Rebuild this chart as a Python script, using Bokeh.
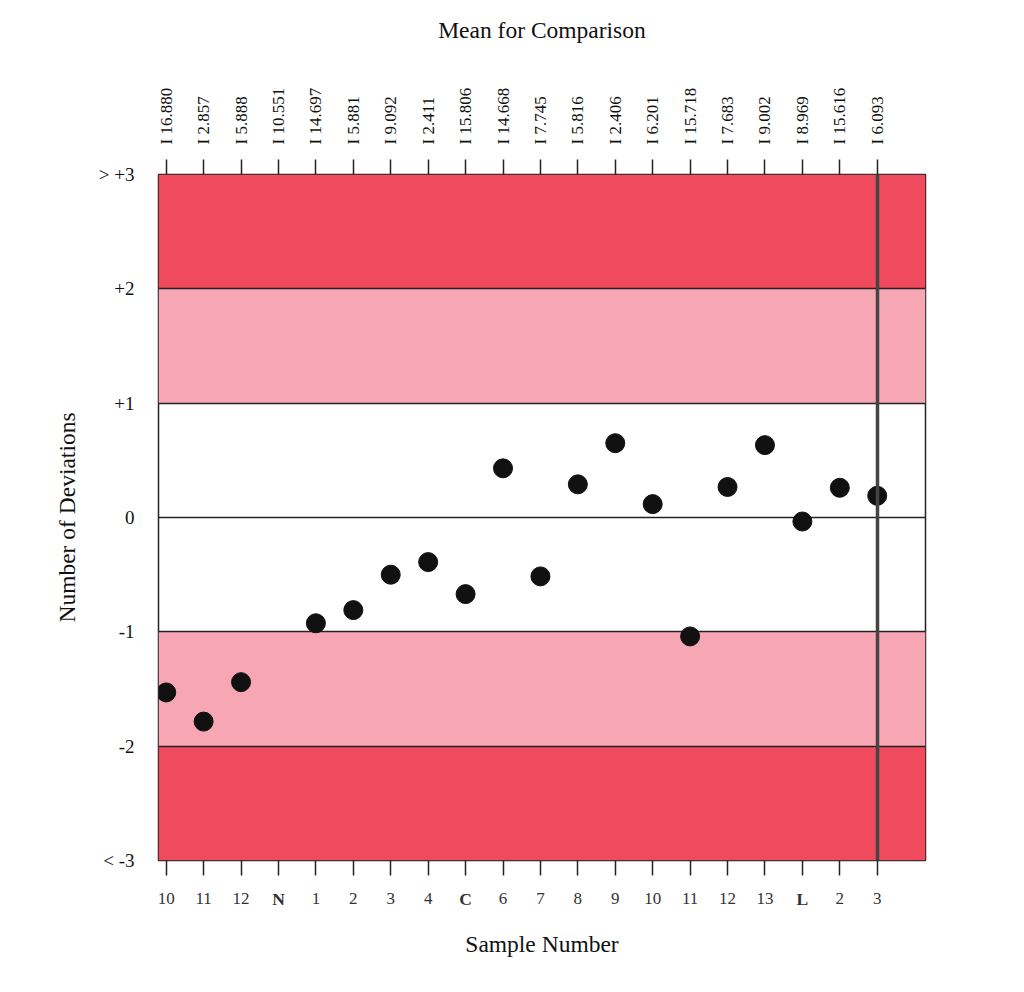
import math
from bokeh.plotting import figure
from bokeh.models import Range1d, FixedTicker, LinearAxis, Label
from bokeh.embed import file_html
from bokeh.resources import INLINE

# ---- data ----
sample_labels = ["10", "11", "12", "N", "1", "2", "3", "4", "C", "6",
                 "7", "8", "9", "10", "11", "12", "13", "L", "2", "3"]
mean_labels = ["I 16.880", "I 2.857", "I 5.888", "I 10.551", "I 14.697",
               "I 5.881", "I 9.092", "I 2.411", "I 15.806", "I 14.668",
               "I 7.745", "I 5.816", "I 2.406", "I 6.201", "I 15.718",
               "I 7.683", "I 9.002", "I 8.969", "I 15.616", "I 6.093"]
deviations = [-1.53, -1.785, -1.44, float("nan"), -0.925, -0.81, -0.50, -0.39,
              -0.67, 0.43, -0.515, 0.29, 0.65, 0.117, -1.04, 0.267, 0.633,
              -0.035, 0.26, 0.19]
bold_labels = ["N", "C", "L"]
y_tick_values = [-3, -2, -1, 0, 1, 2, 3]
y_tick_labels = ["< -3", "-2", "-1", "0", "+1", "+2", "> +3"]
band_bottoms = [2, 1, -2, -3]
band_tops = [3, 2, -1, -2]
band_colors = ["#EF4A5E", "#F7A6B3", "#F7A6B3", "#EF4A5E"]
grid_lines = [-2, -1, 0, 1, 2]
current_index = 19

x_idx = list(range(len(sample_labels)))

FONT = "Liberation Serif"

p = figure(width=1000, height=970,
           x_range=Range1d(-0.206, 20.29), y_range=Range1d(-3, 3),
           output_backend="svg", toolbar_location=None,
           min_border_left=158, min_border_right=75,
           min_border_top=174, min_border_bottom=110)
p.grid.visible = False
p.outline_line_color = "#222222"
p.outline_line_width = 1.5
p.background_fill_color = "white"

# bands
p.hstrip(y0=band_bottoms, y1=band_tops, fill_color=band_colors, line_color=None)
p.hspan(y=grid_lines, line_color="#222222", line_width=1.5)

# points
p.scatter(x_idx, deviations, size=19, color="#111111")

# current sample line
p.vspan(x=[current_index], line_color="#444444", line_width=3.5)

# bottom axis
xa = p.xaxis[0]
xa.ticker = FixedTicker(ticks=x_idx)
xa.major_label_overrides = {i: ("" if s in bold_labels else s) for i, s in enumerate(sample_labels)}
xa.major_tick_out = 15
xa.major_tick_in = 0
xa.minor_tick_line_color = None
xa.major_tick_line_color = "#222222"
xa.major_tick_line_width = 1.5
xa.axis_line_color = None
xa.major_label_standoff = 17
xa.major_label_text_font = FONT
xa.major_label_text_font_size = "17px"
xa.major_label_text_color = "#333333"
xa.axis_label = "Sample Number"
xa.axis_label_text_font = FONT
xa.axis_label_text_font_size = "23.5px"
xa.axis_label_text_font_style = "normal"
xa.axis_label_text_color = "#111111"
xa.axis_label_standoff = 24

# bold category labels (placed in a side panel so they are not clipped)
for i, s in enumerate(sample_labels):
    if s in bold_labels:
        p.add_layout(Label(x=i, y=-3, y_offset=-38, text=s, text_align="center",
                           text_baseline="middle", text_font=FONT,
                           text_font_size="17.5px", text_font_style="bold",
                           text_color="#333333"), "right")

# top axis
ta = LinearAxis(ticker=FixedTicker(ticks=x_idx),
                major_label_overrides={i: s for i, s in enumerate(mean_labels)})
ta.major_label_orientation = math.pi / 2
ta.major_tick_out = 15
ta.major_tick_in = 0
ta.minor_tick_line_color = None
ta.major_tick_line_color = "#222222"
ta.major_tick_line_width = 1.5
ta.axis_line_color = None
ta.major_label_standoff = 15
ta.major_label_text_font = FONT
ta.major_label_text_font_size = "17px"
ta.major_label_text_color = "#111111"
ta.axis_label = "Mean for Comparison"
ta.axis_label_text_font = FONT
ta.axis_label_text_font_size = "23.5px"
ta.axis_label_text_font_style = "normal"
ta.axis_label_text_color = "#111111"
ta.axis_label_standoff = 42
p.add_layout(ta, "above")

# left axis
ya = p.yaxis[0]
ya.ticker = FixedTicker(ticks=y_tick_values)
ya.major_label_overrides = {v: s for v, s in zip(y_tick_values, y_tick_labels)}
ya.major_tick_out = 0
ya.major_tick_in = 0
ya.major_tick_line_color = None
ya.minor_tick_line_color = None
ya.axis_line_color = None
ya.major_label_standoff = 24
ya.major_label_text_font = FONT
ya.major_label_text_font_size = "19px"
ya.major_label_text_color = "#111111"
ya.axis_label = "Number of Deviations"
ya.axis_label_text_font = FONT
ya.axis_label_text_font_size = "23.5px"
ya.axis_label_text_font_style = "normal"
ya.axis_label_text_color = "#111111"
ya.axis_label_standoff = 16

open("out.html", "w").write(file_html(p, INLINE))
